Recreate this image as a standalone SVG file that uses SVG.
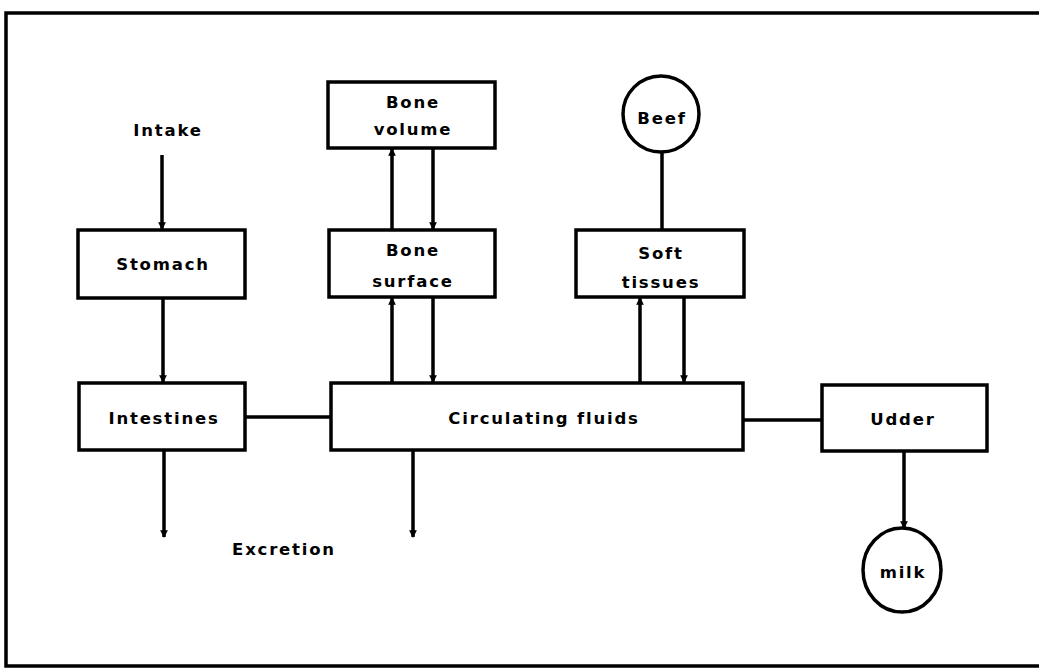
<svg xmlns="http://www.w3.org/2000/svg" width="1039" height="668" viewBox="0 0 1039 668">
<style>
.box{fill:#fff;stroke:#000;stroke-width:3.5}
.ln{fill:none;stroke:#000;stroke-width:3.5}
text{font-family:"DejaVu Sans","Liberation Sans",sans-serif;font-weight:bold;font-size:16.5px;letter-spacing:1.8px;fill:#000;text-anchor:middle;dominant-baseline:central}
</style>
<defs>
<marker id="ah" viewBox="0 0 8 8" refX="7" refY="4" markerWidth="2.2" markerHeight="2.4" orient="auto" markerUnits="strokeWidth">
<path d="M0,0 L8,4 L0,8 z" fill="#000"/>
</marker>
</defs>
<rect width="1039" height="668" fill="#fff"/>
<path class="ln" d="M1039,13 L6,13 L6,666 L1039,666" stroke-width="4"/>
<g id="connectors">
<line class="ln" x1="162" y1="155" x2="162" y2="229" marker-end="url(#ah)"/>
<line class="ln" x1="163" y1="298" x2="163" y2="382" marker-end="url(#ah)"/>
<line class="ln" x1="164" y1="451" x2="164" y2="537" marker-end="url(#ah)"/>
<line class="ln" x1="413" y1="451" x2="413" y2="537" marker-end="url(#ah)"/>
<line class="ln" x1="245" y1="417" x2="331" y2="417"/>
<line class="ln" x1="743" y1="420" x2="822" y2="420"/>
<line class="ln" x1="392" y1="383" x2="392" y2="298" marker-end="url(#ah)"/>
<line class="ln" x1="433" y1="297" x2="433" y2="382" marker-end="url(#ah)"/>
<line class="ln" x1="392" y1="230" x2="392" y2="149" marker-end="url(#ah)"/>
<line class="ln" x1="433" y1="148" x2="433" y2="229" marker-end="url(#ah)"/>
<line class="ln" x1="640" y1="383" x2="640" y2="298" marker-end="url(#ah)"/>
<line class="ln" x1="684" y1="297" x2="684" y2="382" marker-end="url(#ah)"/>
<line class="ln" x1="662" y1="153" x2="662" y2="230"/>
<line class="ln" x1="904" y1="451" x2="904" y2="528" marker-end="url(#ah)"/>
</g>
<g id="intake"><text x="168" y="130">Intake</text></g>
<g id="stomach"><rect class="box" x="78" y="230" width="167" height="68"/><text x="163" y="264">Stomach</text></g>
<g id="intestines"><rect class="box" x="79" y="383" width="166" height="67"/><text x="164" y="418">Intestines</text></g>
<g id="circulating"><rect class="box" x="331" y="383" width="412" height="67"/><text x="544" y="418">Circulating fluids</text></g>
<g id="udder"><rect class="box" x="822" y="385" width="165" height="66"/><text x="903" y="419">Udder</text></g>
<g id="bone-volume"><rect class="box" x="328" y="82" width="167" height="66"/><text x="413" y="102">Bone</text><text x="413" y="129">volume</text></g>
<g id="bone-surface"><rect class="box" x="329" y="230" width="166" height="67"/><text x="413" y="250">Bone</text><text x="413" y="281">surface</text></g>
<g id="soft-tissues"><rect class="box" x="576" y="230" width="168" height="67"/><text x="661" y="253">Soft</text><text x="661" y="282">tissues</text></g>
<g id="beef"><circle class="box" cx="661" cy="114" r="38"/><text x="662" y="118">Beef</text></g>
<g id="milk"><ellipse class="box" cx="902" cy="570" rx="39" ry="42"/><text x="903" y="572">milk</text></g>
<g id="excretion"><text x="284" y="549">Excretion</text></g>
</svg>
